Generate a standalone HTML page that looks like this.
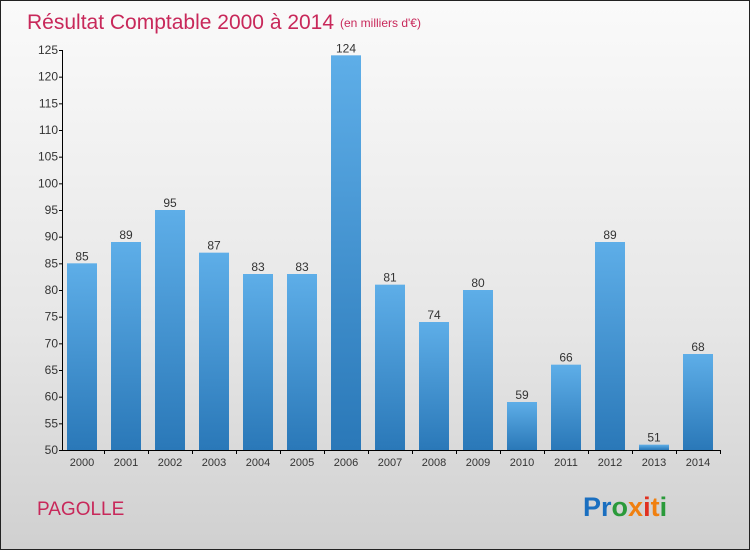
<!DOCTYPE html>
<html><head><meta charset="utf-8"><style>
body{margin:0}
#c{position:relative;width:748px;height:548px;border:1px solid #222;background:linear-gradient(#fafafa,#e6e6e6 60%,#d0d0d0);font-family:"Liberation Sans",sans-serif;overflow:hidden}
</style></head><body>
<div id="c">
<svg width="748" height="548">
<defs><linearGradient id="bg" x1="0" y1="0" x2="0" y2="1"><stop offset="0" stop-color="#5eaee8"/><stop offset="1" stop-color="#2a78b8"/></linearGradient></defs>
<text x="26" y="28" font-size="21" fill="#c8285a">Résultat Comptable 2000 à 2014</text>
<text x="339" y="26" font-size="12" fill="#c8285a">(en milliers d'€)</text>
<g id="plot"></g>
<text x="36" y="514" font-size="19" fill="#c8285a">PAGOLLE</text>
<text x="582" y="515" font-size="27" font-weight="bold"><tspan fill="#1a6fc0">Pr</tspan><tspan fill="#2a9a3a">o</tspan><tspan fill="#f08010">x</tspan><tspan fill="#e03020">i</tspan><tspan fill="#f08010">t</tspan><tspan fill="#2a9a3a">i</tspan></text>
</svg>
</div>
<script>
const years=["2000","2001","2002","2003","2004","2005","2006","2007","2008","2009","2010","2011","2012","2013","2014"];
const values=[85,89,95,87,83,83,124,81,74,80,59,66,89,51,68];
const ticks=[50,55,60,65,70,75,80,85,90,95,100,105,110,115,120,125];
const NS="http://www.w3.org/2000/svg";
const g=document.getElementById('plot');
const y=v=>449-(v-50)*400/75;
const x=i=>81+i*44;
function mk(t,a,p){const e=document.createElementNS(NS,t);for(const k in a)e.setAttribute(k,a[k]);(p||g).appendChild(e);return e;}
const ax=mk('line',{x1:61.5,y1:49,x2:61.5,y2:449,stroke:'#000'});


const bx=mk('line',{x1:61,y1:449.5,x2:720,y2:449.5,stroke:'#000'});


ticks.forEach(t=>{
 const l=mk('line',{x1:58,y1:y(t)+.5,x2:62,y2:y(t)+.5,stroke:'#000'});
 
 
 const tx=mk('text',{x:57,y:y(t)+4,'font-size':12,fill:'#333','text-anchor':'end'});
 tx.textContent=t;
 
 
});
years.forEach((yr,i)=>{
 const v=values[i];
 const r=mk('rect',{x:x(i)-15,y:y(v),width:30,height:449-y(v),fill:'url(#bg)'});
 
 
 const vl=mk('text',{x:x(i),y:y(v)-3,'font-size':12,fill:'#333','text-anchor':'middle'});
 vl.textContent=v;
 
 
 const tk=mk('line',{x1:x(i)+22.5,y1:449,x2:x(i)+22.5,y2:453,stroke:'#000'});
 
 
 const xl=mk('text',{x:x(i),y:465,'font-size':11,fill:'#333','text-anchor':'middle'});
 xl.textContent=yr;
 
 
});
</script>
</body></html>
